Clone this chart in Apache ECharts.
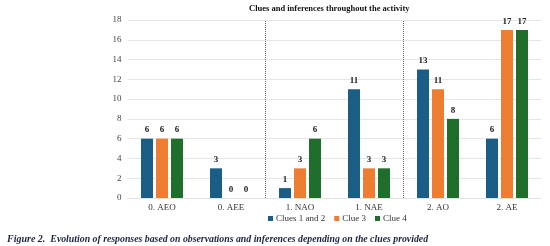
<!DOCTYPE html>
<html>
<head>
<meta charset="utf-8">
<script src="https://cdn.jsdelivr.net/npm/echarts@6/dist/echarts.min.js"></script>
<style>
    html, body { margin: 0; padding: 0; background: #fff; }
    #chart { width: 550px; height: 246px; }
</style>
</head>
<body>
<div id="chart"></div>
<script>
var categories = ['0. AEO', '0. AEE', '1. NAO', '1. NAE', '2. AO', '2. AE'];
var clues12 = [6, 3, 1, 11, 13, 6];
var clue3 = [6, 0, 3, 3, 11, 17];
var clue4 = [6, 0, 6, 3, 8, 17];
// group separators, counted in category widths from the left edge
var separators = [2, 4];

var chart = echarts.init(document.getElementById('chart'));
var serif = '"Liberation Serif", "DejaVu Serif", serif';

var barLabel = {
    show: true,
    position: 'top',
    distance: 4,
    fontFamily: serif,
    fontWeight: 'bold',
    fontSize: 9,
    color: '#222'
};

var option = {
    animation: false,
    color: ['#1b5e85', '#ed7d31', '#1f6e2b'],
    title: [{
        text: 'Clues and inferences throughout the activity',
        left: 249,
        top: 4,
        padding: 0,
        textStyle: { fontFamily: serif, fontWeight: 'bold', fontSize: 8.5, color: '#111' }
    }, {
        text: '{b|Figure 2.} {i|Evolution of responses based on observations and inferences depending on the clues provided}',
        left: 7,
        top: 230,
        padding: 0,
        textStyle: {
            rich: {
                b: { fontFamily: serif, fontWeight: 'bold', fontStyle: 'italic', fontSize: 10, color: '#1c2340' },
                i: { fontFamily: serif, fontStyle: 'italic', fontSize: 9.8, color: '#1c2340' }
            }
        }
    }],
    legend: {
        left: 263,
        top: 209,
        itemWidth: 5,
        itemHeight: 5,
        itemGap: 9,
        icon: 'rect',
        textStyle: { fontFamily: serif, fontSize: 9, color: '#333', padding: [0, 0, 0, -2] },
        data: ['Clues 1 and 2', 'Clue 3', 'Clue 4']
    },
    grid: {
        left: 127.5,
        right: 8.5,
        top: 20,
        bottom: 48
    },
    xAxis: [{
        type: 'category',
        data: categories,
        axisTick: { show: false },
        axisLine: { lineStyle: { color: '#e3e3e3' } },
        axisLabel: { fontFamily: serif, fontSize: 9, color: '#333', margin: 5 }
    }, {
        type: 'value',
        min: 0,
        max: categories.length,
        show: false
    }],
    yAxis: {
        type: 'value',
        min: 0,
        max: 18,
        interval: 2,
        axisLine: { show: false },
        axisTick: { show: false },
        splitLine: { lineStyle: { color: '#e6e6e6' } },
        axisLabel: { fontFamily: serif, fontSize: 9, color: '#444', margin: 6 }
    },
    series: [{
        name: 'Clues 1 and 2',
        type: 'bar',
        barWidth: 12,
        barGap: '25%',
        data: clues12,
        label: barLabel
    }, {
        name: 'Clue 3',
        type: 'bar',
        barWidth: 12,
        barGap: '25%',
        data: clue3,
        label: barLabel
    }, {
        name: 'Clue 4',
        type: 'bar',
        barWidth: 12,
        barGap: '25%',
        data: clue4,
        label: barLabel
    }, {
        name: 'separators',
        type: 'line',
        xAxisIndex: 1,
        data: [],
        markLine: {
            silent: true,
            symbol: 'none',
            label: { show: false },
            lineStyle: { type: 'dotted', color: '#666', width: 1 },
            data: separators.map(function (v) { return { xAxis: v }; })
        }
    }]
};

chart.setOption(option);
</script>
</body>
</html>
